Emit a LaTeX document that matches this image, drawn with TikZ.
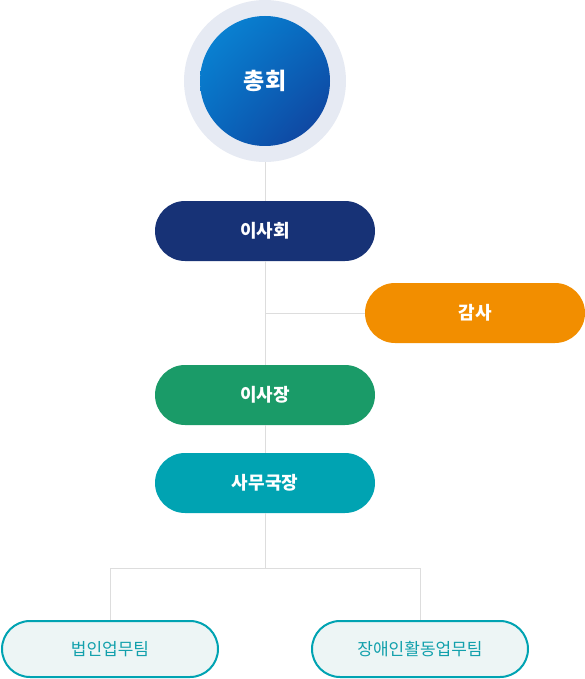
\documentclass[tikz,border=0pt]{standalone}
\usepackage{fontspec}
\newfontfamily\kr{Noto Sans CJK KR}
\usetikzlibrary{shapes.misc,shadings}
\definecolor{ring}{HTML}{E6EAF3}
\definecolor{cLight}{HTML}{0A8AD8}
\definecolor{cMid}{HTML}{0868BE}
\definecolor{cDark}{HTML}{123C98}
\definecolor{navy}{HTML}{173276}
\definecolor{orng}{HTML}{F28E00}
\definecolor{grn}{HTML}{1A9B68}
\definecolor{teal}{HTML}{00A3B2}
\definecolor{tealtxt}{HTML}{12A0AC}
\definecolor{pale}{HTML}{EDF5F5}
\definecolor{linec}{HTML}{DDDDDD}
\tikzset{
  x=1pt,y=-1pt,
  pill/.style={rounded rectangle, minimum width=220pt, minimum height=60pt, inner sep=0pt, text=white, font=\kr\bfseries\fontsize{18}{20}\selectfont},
  team/.style={rounded rectangle, minimum width=216pt, minimum height=56pt, inner sep=0pt, draw=teal, line width=2pt, fill=pale, text=tealtxt, font=\kr\fontsize{17}{19}\selectfont},
  conn/.style={draw=linec, line width=1pt}
}
\begin{document}
\begin{tikzpicture}
\useasboundingbox (0,0) rectangle (585,679);
% top circle
\node[circle, fill=ring, minimum size=162pt, inner sep=0pt] (ring) at (265,81) {};
\shade[upper left=cLight, upper right=cMid, lower left=cMid, lower right=cDark] (265,81) circle[radius=65];
\node[font=\kr\bfseries\fontsize{23}{25}\selectfont, text=white] (gen) at (265,81) {총회};
% pills
\node[pill, fill=navy] (board) at (265,231) {이사회};
\node[pill, fill=orng] (audit) at (475,313) {감사};
\node[pill, fill=grn] (chair) at (265,395) {이사장};
\node[pill, fill=teal] (sec) at (265,483) {사무국장};
\node[team] (t1) at (110,649) {법인업무팀};
\node[team] (t2) at (420,649) {장애인활동업무팀};
\coordinate (j1) at (265,313);
\coordinate (j2) at (265,568);
\coordinate (j2l) at (110,568);
\coordinate (j2r) at (420,568);
% connectors
\draw[conn] (ring.south) -- (board.north);
\draw[conn] (board.south) -- (chair.north);
\draw[conn] (j1) -- (audit.west);
\draw[conn] (chair.south) -- (sec.north);
\draw[conn] (sec.south) -- (j2);
\draw[conn] (j2l) -- (j2r);
\draw[conn] (j2l) -- (t1.north);
\draw[conn] (j2r) -- (t2.north);
\end{tikzpicture}
\end{document}
